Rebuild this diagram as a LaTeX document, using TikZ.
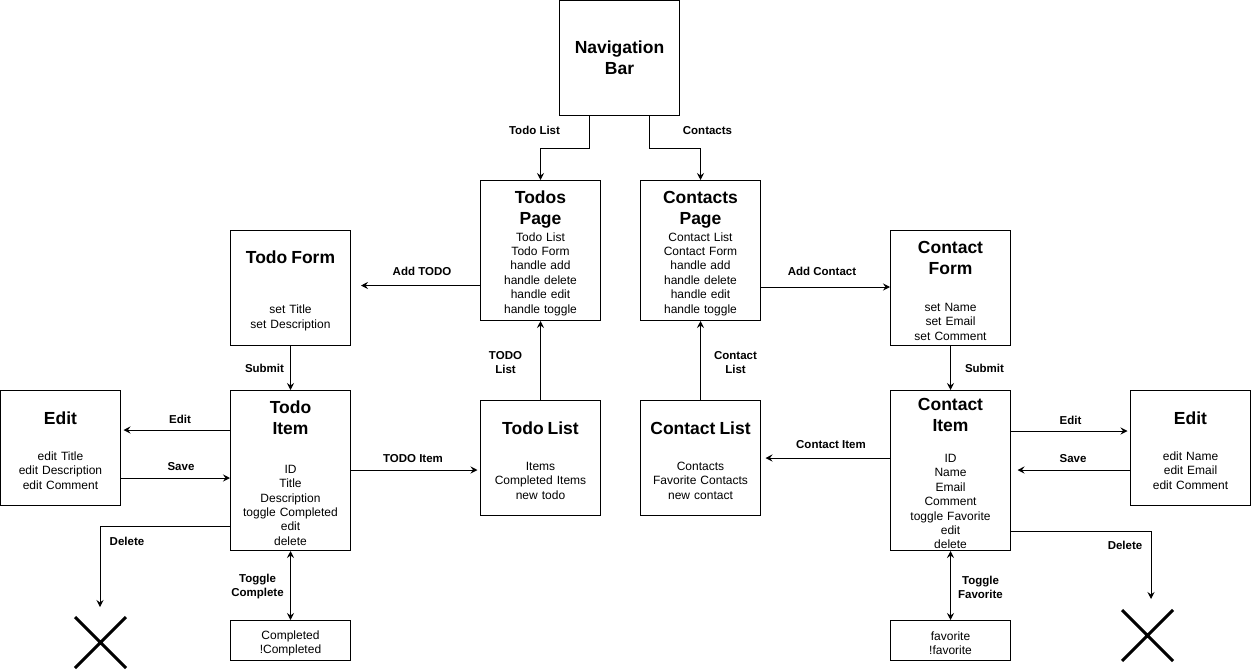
\documentclass[tikz,border=0pt]{standalone}
\usepackage{fontspec}
\setmainfont{Liberation Sans}
\usetikzlibrary{arrows.meta}

\newcommand{\ttl}[1]{{\fontsize{17.5}{21}\selectfont\bfseries\rule{0pt}{18.3pt}#1\par}}
\newcommand{\lift}{\rule{0pt}{14.3pt}}

\begin{document}
\begin{tikzpicture}[x=1pt, y=-1pt, line width=1pt,
    box/.style={draw, minimum width=120pt, text width=116pt, align=center, inner sep=0pt,
        font=\fontsize{12}{14.4}\selectfont},
    lbl/.style={font=\fontsize{11.5}{14}\selectfont\bfseries, align=center, inner sep=0pt},
    arr/.style={-{Stealth[length=7pt, width=7pt, inset=2.5pt]}},
    darr/.style={{Stealth[length=7pt, width=7pt, inset=2.5pt]}-{Stealth[length=7pt, width=7pt, inset=2.5pt]}},
    xmark/.style={line width=3pt}]
    \useasboundingbox (0,0) rectangle (1251,672);

    % Pages
    \node[box, minimum height=115pt, font=\fontsize{17.5}{21}\selectfont\bfseries] (nav) at (619.5,58) {Navigation\\Bar};
    \node[box, minimum height=140pt] (todos) at (540.5,250.5)
        {\ttl{Todos\\Page}\vspace{2pt}Todo List\\Todo Form\\handle add\\handle delete\\handle edit\\handle toggle};
    \node[box, minimum height=140pt] (contacts) at (700.5,250.5)
        {\ttl{Contacts\\Page}\vspace{2pt}Contact List\\Contact Form\\handle add\\handle delete\\handle edit\\handle toggle};

    % Todo side
    \node[box, minimum height=115pt] (tform) at (290.5,288)
        {\ttl{Todo Form}\vspace{36pt}set Title\\set Description};
    \node[box, minimum height=160pt] (titem) at (290.5,470.5)
        {\ttl{Todo\\Item}\vspace{24pt}ID\\Title\\Description\\toggle Completed\\edit\\delete};
    \node[box, minimum height=115pt] (editL) at (60.5,448)
        {\ttl{Edit}\vspace{21pt}edit Title\\edit Description\\edit Comment};
    \node[box, minimum height=115pt] (tlist) at (540.5,458)
        {\ttl{Todo List}\vspace{21pt}Items\\Completed Items\\new todo};
    \node[box, minimum height=40pt] (tcomp) at (290.5,640.5) {\lift Completed\\!Completed};

    % Contact side
    \node[box, minimum height=115pt] (cform) at (950.5,288)
        {\ttl{Contact\\Form}\vspace{22pt}set Name\\set Email\\set Comment};
    \node[box, minimum height=160pt] (citem) at (950.5,470.5)
        {\ttl{Contact\\Item}\vspace{17pt}ID\\Name\\Email\\Comment\\toggle Favorite\\edit\\delete};
    \node[box, minimum height=115pt] (editR) at (1190.5,448)
        {\ttl{Edit}\vspace{21pt}edit Name\\edit Email\\edit Comment};
    \node[box, minimum height=115pt] (clist) at (700.5,458)
        {\ttl{Contact List}\vspace{21pt}Contacts\\Favorite Contacts\\new contact};
    \node[box, minimum height=40pt] (cfav) at (950.5,640.5) {\lift favorite\\!favorite};

    % Delete targets
    \coordinate (delL) at (100,607);
    \coordinate (delR) at (1151,599);
    \draw[xmark] (75,617) -- (126,668) (75,668) -- (126,617);
    \draw[xmark] (1122,610) -- (1173,661) (1122,661) -- (1173,610);

    % Navigation
    \draw[arr] ([xshift=-30pt]nav.south) -- node[lbl, xshift=-55pt, yshift=1.5pt] (lTodo) {Todo List} ++(0,32) -| (todos.north);
    \draw[arr] ([xshift=30pt]nav.south) -- node[lbl, xshift=58pt, yshift=1.5pt] (lCont) {Contacts} ++(0,32) -| (contacts.north);

    % Todo connectors
    \draw[arr] ([yshift=-35pt]todos.west) -- node[lbl, xshift=1.5pt, yshift=14.5pt] (lAddT) {Add TODO} ([xshift=10pt, yshift=2.5pt]tform.east);
    \draw[arr] (tform.south) -- node[lbl, xshift=-26pt] (lSubT) {Submit} (titem.north);
    \draw[arr] (tlist.north) -- node[lbl, xshift=-35pt, yshift=-2.5pt] (lTList) {TODO\\List} (todos.south);
    \draw[arr, shorten >=2.5pt] ([yshift=40.5pt]titem.west) -- node[lbl, xshift=4.5pt, yshift=11pt] (lEditT) {Edit} ([yshift=18pt]editL.east);
    \draw[arr] ([yshift=-30pt]editL.east) -- node[lbl, xshift=5.5pt, yshift=11pt] (lSaveT) {Save} ([yshift=-7.5pt]titem.west);
    \draw[arr, shorten >=2.5pt] ([yshift=0.5pt]titem.east) -- node[lbl, xshift=-2.5pt, yshift=11pt] (lTItem) {TODO Item} ([yshift=-12pt]tlist.west);
    \draw[arr] ([yshift=-55.5pt]titem.west) -| node[lbl, pos=0.5, xshift=27pt, yshift=-15pt] (lDelT) {Delete} (delL);
    \draw[darr] (titem.south) -- node[lbl, xshift=-33pt, yshift=-1.5pt] (lTog) {Toggle\\Complete} (tcomp.north);

    % Contact connectors
    \draw[arr] ([yshift=-36.5pt]contacts.east) -- node[lbl, xshift=-3.5pt, yshift=16pt] (lAddC) {Add Contact} ([yshift=1pt]cform.west);
    \draw[arr] (cform.south) -- node[lbl, xshift=34pt] (lSubC) {Submit} (citem.north);
    \draw[arr] (clist.north) -- node[lbl, xshift=35pt, yshift=-2.5pt] (lCList) {Contact\\List} (contacts.south);
    \draw[arr, shorten >=4.5pt] ([yshift=12.5pt]citem.west) -- node[lbl, xshift=5.5pt, yshift=13pt] (lCItem) {Contact Item} (clist.east);
    \draw[arr, shorten >=2.5pt] ([yshift=39.5pt]citem.east) -- node[lbl, yshift=11pt] (lEditC) {Edit} ([yshift=17pt]editR.west);
    \draw[arr, shorten >=6.5pt] ([yshift=-22pt]editR.west) -- node[lbl, xshift=2.5pt, yshift=11pt] (lSaveC) {Save} ([yshift=0.5pt]citem.east);
    \draw[arr] ([yshift=-60.5pt]citem.east) -| node[lbl, pos=0.5, xshift=-26pt, yshift=-14pt] (lDelC) {Delete} (delR);
    \draw[darr] (citem.south) -- node[lbl, xshift=30pt, yshift=-1.5pt] (lFav) {Toggle\\Favorite} (cfav.north);

\end{tikzpicture}
\end{document}
